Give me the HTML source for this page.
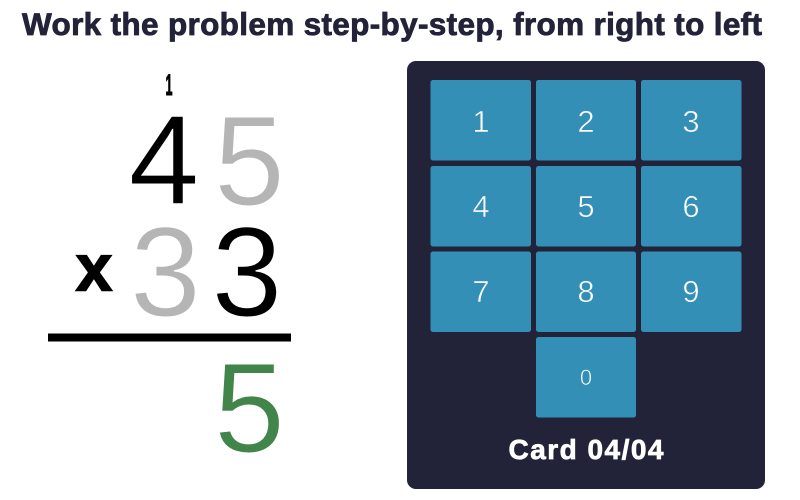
<!DOCTYPE html>
<html>
<head>
<meta charset="utf-8">
<style>
html,body{margin:0;padding:0;background:#fff}
svg{display:block}
text{font-family:"Liberation Sans",sans-serif}
</style>
</head>
<body>
<svg width="800" height="500" viewBox="0 0 800 500" xmlns="http://www.w3.org/2000/svg">
<rect width="800" height="500" fill="#fff"/>
<text x="22" y="35" font-size="31.500" font-weight="700" fill="#222338" stroke="#222338" stroke-width="0.8" textLength="740" lengthAdjust="spacing">Work the problem step-by-step, from right to left</text>

<text x="169" y="95" font-size="30" font-weight="700" fill="#000" stroke="#000" stroke-width="1" text-anchor="middle" textLength="7" lengthAdjust="spacingAndGlyphs">1</text>
<g font-size="127" text-anchor="middle" stroke="#fff" stroke-width="1">
<text x="164" y="204" fill="#000">4</text>
<text x="249.500" y="205" fill="#b5b5b5">5</text>
<text x="165.500" y="316" fill="#b5b5b5">3</text>
<text x="247" y="316" fill="#000">3</text>
<text x="249.500" y="452" fill="#41854a">5</text>
</g>
<text x="94" y="290.500" font-size="66" font-weight="700" fill="#000" stroke="#000" stroke-width="1.5" text-anchor="middle">x</text>
<rect x="48" y="333.500" width="243" height="8" fill="#000"/>

<rect x="407" y="61" width="358" height="428" rx="9" fill="#222338"/>
<g fill="#348fb6">
<rect x="430.500" y="80" width="100.500" height="80.500" rx="2.500"/>
<rect x="536" y="80" width="100" height="80.500" rx="2.500"/>
<rect x="641" y="80" width="100.500" height="80.500" rx="2.500"/>
<rect x="430.500" y="166" width="100.500" height="80.500" rx="2.500"/>
<rect x="536" y="166" width="100" height="80.500" rx="2.500"/>
<rect x="641" y="166" width="100.500" height="80.500" rx="2.500"/>
<rect x="430.500" y="251.500" width="100.500" height="80.500" rx="2.500"/>
<rect x="536" y="251.500" width="100" height="80.500" rx="2.500"/>
<rect x="641" y="251.500" width="100.500" height="80.500" rx="2.500"/>
<rect x="536" y="337" width="100" height="80.500" rx="2.500"/>
</g>
<g font-size="31" fill="#fff" text-anchor="middle" stroke="#348fb6" stroke-width="0.6">
<text x="481" y="132">1</text>
<text x="586" y="132">2</text>
<text x="691" y="132">3</text>
<text x="481" y="217">4</text>
<text x="586" y="217">5</text>
<text x="691" y="217">6</text>
<text x="481" y="302">7</text>
<text x="586" y="302">8</text>
<text x="691" y="302">9</text>
<text x="586" y="385" font-size="22">0</text>
</g>
<text x="508.500" y="459" font-size="28" font-weight="700" fill="#fff" stroke="#fff" stroke-width="0.7" textLength="155" lengthAdjust="spacing">Card 04/04</text>
</svg>
</body>
</html>
